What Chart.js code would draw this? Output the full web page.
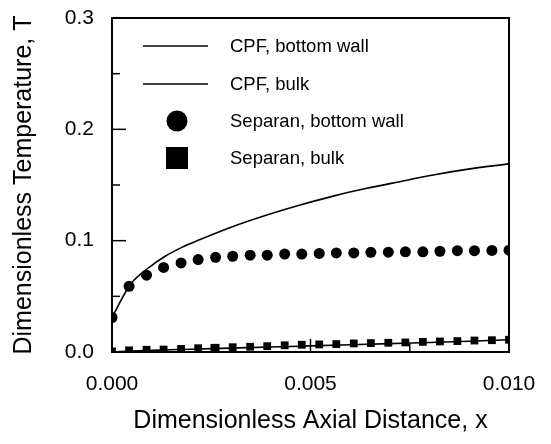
<!DOCTYPE html>
<html>
<head>
<meta charset="utf-8">
<script src="https://cdn.jsdelivr.net/npm/chart.js@4"></script>
<style>
    html, body { margin: 0; padding: 0; background: #fff; }
    #wrap { width: 551px; height: 444px; }
</style>
</head>
<body>
<div id="wrap"><canvas id="temp-chart"></canvas></div>
<script>
// Axial positions of the Separan measurements
var separanX = [0, 0.00043, 0.00087, 0.0013, 0.00174, 0.00217, 0.00261, 0.00304, 0.00348, 0.00391, 0.00435, 0.00478,
    0.00522, 0.00565, 0.00609, 0.00652, 0.00696, 0.00739, 0.00783, 0.00826, 0.0087, 0.00913, 0.00957, 0.01];
var separanWall = [0.031, 0.059, 0.069, 0.076, 0.080, 0.083, 0.085, 0.086, 0.087, 0.087, 0.088, 0.088,
    0.0885, 0.089, 0.089, 0.0895, 0.0897, 0.090, 0.090, 0.0905, 0.091, 0.091, 0.0912, 0.0915];
var separanBulk = [0.0005, 0.0015, 0.002, 0.0022, 0.0028, 0.0034, 0.0038, 0.0043, 0.0047, 0.0052, 0.006, 0.0065,
    0.0068, 0.0071, 0.0077, 0.008, 0.0083, 0.0086, 0.0091, 0.0095, 0.0098, 0.0103, 0.0106, 0.011];

// CPF curves
var cpfWallX = [0, 0.00045, 0.0009, 0.00134, 0.00176, 0.00222, 0.00305, 0.0039, 0.00474, 0.00557, 0.00642, 0.00725, 0.00809, 0.00893, 0.01];
var cpfWall = [0.031, 0.060, 0.075, 0.086, 0.094, 0.101, 0.1127, 0.123, 0.132, 0.140, 0.147, 0.153, 0.159, 0.164, 0.169];
var cpfBulkX = [0, 0.001, 0.002, 0.003, 0.004, 0.005, 0.006, 0.007, 0.008, 0.009, 0.01];
var cpfBulk = [0, 0.0015, 0.0025, 0.0035, 0.0045, 0.0055, 0.0065, 0.0075, 0.0085, 0.0097, 0.011];

var legendLabels = ['CPF, bottom wall', 'CPF, bulk', 'Separan, bottom wall', 'Separan, bulk'];

function toPoints(xs, ys) {
    return xs.map(function (x, i) { return {x: x, y: ys[i]}; });
}

// Frame, inward ticks and the legend inside the plot
var framePlugin = {
    id: 'frame',
    afterDatasetsDraw: function (chart) {
        var ctx = chart.ctx;
        var area = chart.chartArea;
        var xs = chart.scales.x;
        var ys = chart.scales.y;
        ctx.save();
        ctx.strokeStyle = '#000';
        ctx.lineWidth = 2;
        ctx.strokeRect(area.left, area.top, area.right - area.left, area.bottom - area.top);

        ctx.lineWidth = 1.5;
        [0.05, 0.1, 0.15, 0.2, 0.25].forEach(function (v) {
            var py = ys.getPixelForValue(v);
            var len = (Math.round(v * 100) % 10 === 0) ? 14 : 8;
            ctx.beginPath();
            ctx.moveTo(area.left, py);
            ctx.lineTo(area.left + len, py);
            ctx.stroke();
        });
        [0.0025, 0.005, 0.0075].forEach(function (v) {
            var px = xs.getPixelForValue(v);
            var len = (v === 0.005) ? 13 : 8;
            ctx.beginPath();
            ctx.moveTo(px, area.bottom);
            ctx.lineTo(px, area.bottom - len);
            ctx.stroke();
        });

        // legend
        var rows = [46, 84, 121, 158];
        ctx.fillStyle = '#000';
        ctx.lineWidth = 1.5;
        for (var i = 0; i < 2; i++) {
            ctx.beginPath();
            ctx.moveTo(143, rows[i]);
            ctx.lineTo(208, rows[i]);
            ctx.stroke();
        }
        ctx.beginPath();
        ctx.arc(177, rows[2], 10.5, 0, Math.PI * 2);
        ctx.fill();
        ctx.fillRect(166, rows[3] - 11, 22, 22);

        ctx.font = '18.5px "Liberation Sans", Arial, sans-serif';
        ctx.textBaseline = 'middle';
        ctx.textAlign = 'left';
        legendLabels.forEach(function (label, i) {
            ctx.fillText(label, 230, rows[i] + 1);
        });
        ctx.restore();
    }
};

document.addEventListener('DOMContentLoaded', function () {
    var fontFamily = '"Liberation Sans", Arial, sans-serif';
    new Chart(document.getElementById('temp-chart').getContext('2d'), {
        type: 'scatter',
        data: {
            datasets: [{
                label: legendLabels[0],
                data: toPoints(cpfWallX, cpfWall),
                showLine: true,
                pointRadius: 0,
                borderColor: '#000',
                borderWidth: 1.6,
                cubicInterpolationMode: 'monotone'
            },
            {
                label: legendLabels[1],
                data: toPoints(cpfBulkX, cpfBulk),
                showLine: true,
                pointRadius: 0,
                borderColor: '#000',
                borderWidth: 1.6,
                cubicInterpolationMode: 'monotone'
            },
            {
                label: legendLabels[2],
                data: toPoints(separanX, separanWall),
                pointStyle: 'circle',
                pointRadius: 5.5,
                backgroundColor: '#000',
                borderColor: '#000',
                borderWidth: 0
            },
            {
                label: legendLabels[3],
                data: toPoints(separanX, separanBulk),
                pointStyle: 'rect',
                pointRadius: 5.5,
                backgroundColor: '#000',
                borderColor: '#000',
                borderWidth: 0
            }]
        },
        options: {
            responsive: true,
            maintainAspectRatio: false,
            animation: false,
            events: [],
            layout: {
                padding: {top: 18, right: 42, left: 0, bottom: 0}
            },
            plugins: {
                legend: {display: false},
                tooltip: {enabled: false}
            },
            scales: {
                x: {
                    type: 'linear',
                    min: 0,
                    max: 0.01,
                    grid: {display: false, drawTicks: false},
                    border: {display: false},
                    ticks: {
                        stepSize: 0.005,
                        padding: 20,
                        color: '#000',
                        font: {family: fontFamily, size: 21},
                        callback: function (v) { return v.toFixed(3); }
                    },
                    title: {
                        display: true,
                        text: 'Dimensionless Axial Distance, x',
                        color: '#000',
                        font: {family: fontFamily, size: 25},
                        padding: {top: 0, bottom: 8}
                    },
                    afterFit: function (scale) {
                        scale.height = 92;
                        scale.paddingLeft = 0;
                        scale.paddingRight = 0;
                    }
                },
                y: {
                    type: 'linear',
                    min: 0,
                    max: 0.3,
                    grid: {display: false, drawTicks: false},
                    border: {display: false},
                    ticks: {
                        stepSize: 0.1,
                        padding: 18,
                        color: '#000',
                        font: {family: fontFamily, size: 21},
                        callback: function (v) { return v.toFixed(1); }
                    },
                    title: {
                        display: true,
                        text: 'Dimensionless Temperature, T',
                        color: '#000',
                        font: {family: fontFamily, size: 25},
                        padding: {top: 9, bottom: 0}
                    },
                    afterFit: function (scale) {
                        scale.width = 112;
                        scale.paddingTop = 0;
                        scale.paddingBottom = 0;
                    }
                }
            }
        },
        plugins: [framePlugin]
    });
});
</script>
</body>
</html>
